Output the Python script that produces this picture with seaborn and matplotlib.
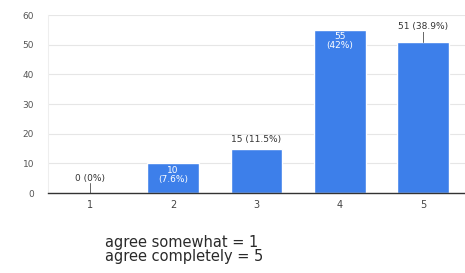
import pandas as pd
import numpy as np
import matplotlib
matplotlib.use('Agg')
import matplotlib.pyplot as plt
import seaborn as sns

# du lieu doc tu hinh
categories = ['1', '2', '3', '4', '5']
counts = [0, 10, 15, 55, 51]
pct_labels = ['0%', '7.6%', '11.5%', '42%', '38.9%']
footer_lines = ['agree somewhat = 1', 'agree completely = 5']

df = pd.DataFrame({'answer': categories, 'count': counts, 'pct': pct_labels})

sns.set_style('white')
plt.rcParams['font.family'] = ['DejaVu Sans']

fig = plt.figure(figsize=(4.65, 2.73), dpi=100)
ax = fig.add_axes([0.103, 0.293, 0.897, 0.652])

sns.barplot(data=df, x='answer', y='count', color='#3d7fea', saturation=1,
            width=0.62, ax=ax)

ax.set_ylim(0, 60)
ax.set_xlim(-0.5, 4.5)
ax.set_yticks(range(0, 61, 10))
ax.yaxis.grid(True, color='#e6e6e6', linewidth=0.8)
ax.set_axisbelow(True)
for s in ['top', 'right']:
    ax.spines[s].set_visible(False)
ax.spines['left'].set_color('#eeeeee')
ax.spines['left'].set_linewidth(0.8)
ax.spines['bottom'].set_color('#333333')
ax.spines['bottom'].set_linewidth(1.0)
ax.tick_params(axis='y', length=0, labelsize=6.5, colors='#555555', pad=10)
ax.tick_params(axis='x', length=0, labelsize=7, colors='#444444', pad=5)
ax.set_xlabel('')
ax.set_ylabel('')

# nhan tren cot
for i, (c, p) in enumerate(zip(counts, pct_labels)):
    if i in (1, 3):
        # nhan trang ben trong cot
        ax.text(i, c - 0.8, f'{c}\n({p})', ha='center', va='top', color='white',
                fontsize=6.5, linespacing=1.0)
    elif i in (0, 4):
        # nhan co duong dan
        ax.plot([i, i], [c, c + 3.5], color='#666666', linewidth=0.7)
        ax.text(i, c + 3.5, f'{c} ({p})', ha='center', va='bottom', color='#333333',
                fontsize=6.5, bbox=dict(facecolor='white', edgecolor='none', pad=0.5))
    else:
        ax.text(i, c + 1.5, f'{c} ({p})', ha='center', va='bottom', color='#333333',
                fontsize=6.5)

fig.text(0.225, 0.11, footer_lines[0], ha='left', va='center',
         fontsize=10.5, color='#2a2a2a')
fig.text(0.225, 0.059, footer_lines[1], ha='left', va='center',
         fontsize=10.5, color='#2a2a2a')

fig.savefig('out.png', dpi=100)
